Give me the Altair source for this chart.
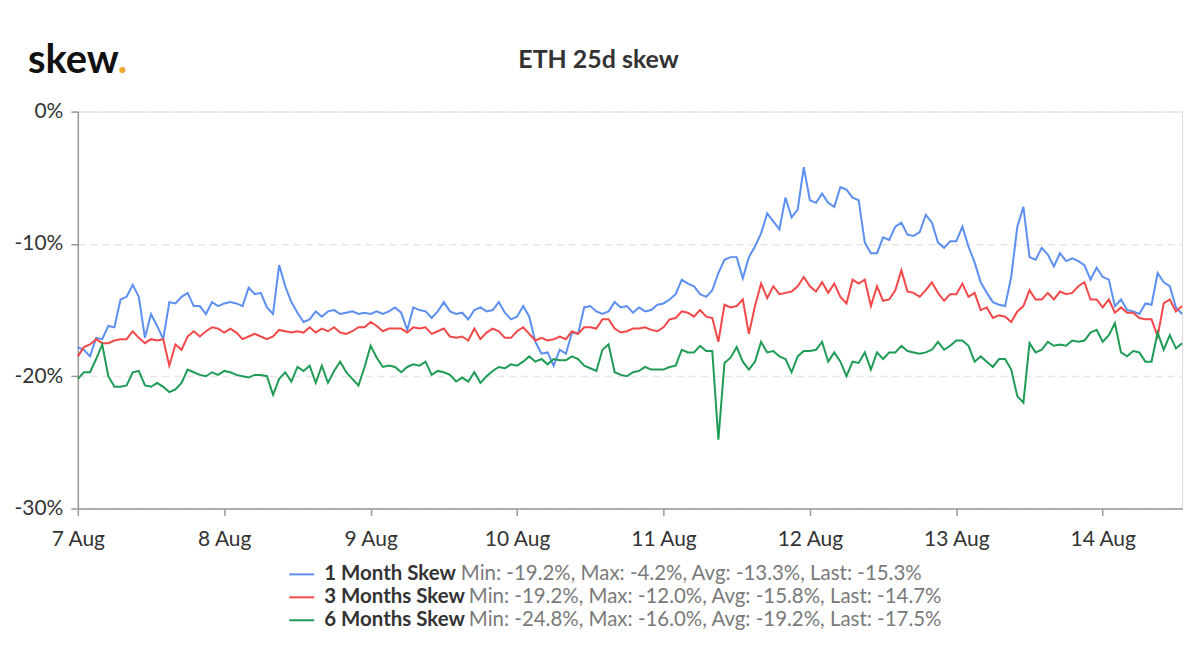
import altair as alt
import pandas as pd

# ---- data (hourly from 7 Aug 00:00) ----
skew_1m = [
    -17.8, -18.0, -18.5, -17.1, -17.2, -16.2, -16.3, -14.2, -14.0, -13.1,
    -14.0, -17.1, -15.3, -16.2, -17.2, -14.4, -14.5, -14.0, -13.7, -14.7,
    -14.7, -15.3, -14.4, -14.7, -14.5, -14.4, -14.5, -14.7, -13.3, -13.8,
    -13.7, -14.8, -15.3, -11.6, -13.2, -14.4, -15.2, -15.9, -15.7, -15.1,
    -15.5, -15.1, -15.0, -15.3, -15.2, -15.1, -15.3, -15.2, -15.3, -15.1,
    -15.3, -15.1, -14.8, -15.2, -16.5, -14.8, -15.0, -15.1, -15.6, -15.1,
    -14.4, -15.1, -15.3, -15.2, -15.7, -15.0, -14.8, -15.1, -15.0, -14.4,
    -15.2, -15.7, -15.5, -14.7, -15.5, -17.4, -18.3, -18.2, -19.2, -18.0,
    -18.3, -16.7, -16.8, -14.8, -14.7, -15.1, -15.3, -15.1, -14.4, -14.8,
    -14.7, -15.2, -14.8, -15.1, -15.0, -14.6, -14.5, -14.2, -13.8, -12.7,
    -13.0, -13.2, -13.8, -14.0, -13.5, -12.2, -11.2, -11.0, -11.0, -12.6,
    -11.0, -10.2, -9.2, -7.7, -8.3, -8.9, -6.5, -8.0, -7.4, -4.2,
    -6.7, -6.9, -6.2, -6.9, -7.2, -5.7, -5.9, -6.5, -6.7, -9.9,
    -10.7, -10.7, -9.5, -9.7, -8.7, -8.4, -9.3, -9.4, -9.1, -7.8,
    -8.4, -9.9, -10.3, -9.8, -9.8, -8.7, -10.2, -11.4, -12.9, -13.7,
    -14.4, -14.6, -14.7, -12.5, -8.7, -7.2, -11.0, -11.2, -10.3, -10.8,
    -11.7, -10.7, -11.3, -11.1, -11.3, -11.6, -12.7, -11.8, -12.5, -12.7,
    -14.7, -14.2, -15.0, -15.1, -15.3, -14.5, -14.6, -12.2, -12.9, -13.2,
    -14.8, -15.3,
]
skew_3m = [
    -18.5, -17.8, -17.6, -17.2, -17.5, -17.5, -17.3, -17.2, -17.2, -16.6,
    -17.1, -17.5, -17.2, -17.3, -17.2, -19.2, -17.6, -18.0, -17.0, -16.6,
    -17.0, -16.6, -16.3, -16.4, -16.7, -16.4, -16.7, -17.2, -17.0, -16.8,
    -17.0, -17.2, -17.0, -16.5, -16.6, -16.7, -16.6, -16.7, -16.3, -16.7,
    -16.4, -16.6, -16.3, -16.7, -16.8, -16.6, -16.3, -16.3, -15.9, -16.2,
    -16.6, -16.4, -16.4, -16.4, -16.7, -16.3, -16.4, -16.3, -16.8, -16.6,
    -16.4, -17.0, -17.1, -17.0, -17.3, -16.4, -17.2, -16.7, -16.4, -16.6,
    -17.1, -17.1, -16.6, -16.3, -16.8, -17.3, -17.1, -17.3, -17.2, -17.0,
    -17.2, -16.6, -16.8, -16.3, -16.3, -16.4, -15.7, -15.7, -16.4, -16.7,
    -16.6, -16.4, -16.4, -16.3, -16.5, -16.6, -16.3, -15.7, -15.6, -15.1,
    -15.2, -15.5, -15.0, -15.5, -15.6, -17.4, -14.6, -14.8, -14.7, -14.2,
    -16.8, -14.7, -13.0, -14.1, -13.2, -13.8, -13.7, -13.6, -13.2, -12.5,
    -13.2, -13.6, -12.9, -13.7, -13.0, -14.0, -14.5, -12.7, -13.0, -12.7,
    -14.7, -13.2, -14.3, -14.2, -13.5, -12.0, -13.6, -13.7, -14.0, -13.5,
    -12.9, -13.7, -14.3, -13.8, -13.8, -13.0, -14.0, -13.7, -15.0, -14.8,
    -15.6, -15.4, -15.5, -15.9, -15.1, -14.7, -13.5, -14.2, -14.2, -13.7,
    -14.2, -13.6, -13.8, -13.7, -13.2, -12.9, -14.2, -14.2, -14.8, -14.2,
    -15.2, -14.8, -15.2, -15.2, -15.6, -15.7, -15.7, -17.0, -14.5, -14.2,
    -15.1, -14.7,
]
skew_6m = [
    -20.2, -19.7, -19.7, -18.7, -17.6, -20.0, -20.8, -20.8, -20.7, -19.7,
    -19.6, -20.7, -20.8, -20.5, -20.8, -21.2, -21.0, -20.5, -19.5, -19.7,
    -19.9, -20.0, -19.7, -19.9, -19.6, -19.7, -19.9, -20.0, -20.1, -19.9,
    -19.9, -20.0, -21.4, -20.2, -19.7, -20.4, -19.3, -19.6, -19.2, -20.5,
    -19.2, -20.5, -19.6, -18.9, -19.7, -20.2, -20.7, -19.3, -17.7, -18.6,
    -19.3, -19.2, -19.3, -19.7, -19.3, -19.1, -19.2, -18.9, -19.9, -19.6,
    -19.7, -19.9, -20.4, -20.1, -20.4, -19.7, -20.5, -20.0, -19.6, -19.3,
    -19.4, -19.1, -19.2, -18.9, -18.5, -18.9, -18.7, -19.1, -18.7, -18.8,
    -18.8, -18.5, -18.7, -19.2, -19.4, -19.6, -18.0, -17.6, -19.7, -19.9,
    -20.0, -19.7, -19.6, -19.3, -19.5, -19.5, -19.5, -19.3, -19.2, -18.0,
    -18.2, -18.2, -17.7, -18.1, -18.1, -24.8, -19.0, -18.6, -17.8, -18.9,
    -19.5, -18.9, -17.4, -18.2, -18.1, -18.5, -18.7, -19.7, -18.5, -18.1,
    -18.1, -18.0, -17.4, -18.9, -18.2, -18.9, -20.0, -18.9, -19.0, -18.2,
    -19.5, -18.2, -18.7, -18.2, -18.2, -17.7, -18.1, -18.2, -18.3, -18.2,
    -18.0, -17.4, -18.0, -17.7, -17.3, -17.3, -17.7, -18.9, -18.5, -18.9,
    -19.3, -18.7, -18.7, -19.5, -21.5, -22.0, -17.5, -18.2, -18.0, -17.4,
    -17.7, -17.6, -17.7, -17.3, -17.4, -17.3, -16.7, -16.5, -17.4, -16.9,
    -16.0, -18.2, -18.5, -18.1, -18.2, -18.9, -18.9, -16.7, -18.0, -16.9,
    -17.9, -17.5,
]

series_names = ["1 Month Skew", "3 Months Skew", "6 Months Skew"]
series_colors = ["#5d8ff0", "#f24848", "#1f9b56"]
stat_min = ["-19.2", "-19.2", "-24.8"]
stat_max = ["-4.2", "-12.0", "-16.0"]
stat_avg = ["-13.3", "-15.8", "-19.2"]
stat_last = ["-15.3", "-14.7", "-17.5"]
y_ticks = [0, -10, -20, -30]
x_tick_days = [7, 8, 9, 10, 11, 12, 13, 14]
chart_title = "ETH 25d skew"

# ---- build table ----
times = pd.date_range("2020-08-07 00:00", periods=len(skew_1m), freq="h")
frames = []
for name, vals in zip(series_names, [skew_1m, skew_3m, skew_6m]):
    frames.append(pd.DataFrame({"time": times, "value": vals, "series": name}))
df = pd.concat(frames, ignore_index=True)
df["time"] = df["time"].dt.strftime("%Y-%m-%dT%H:%M:%S")

FONT = "Lato"
W, H = 1107, 398

x_scale = alt.Scale(
    domain=[alt.DateTime(year=2020, month=8, date=7, hours=0),
            alt.DateTime(year=2020, month=8, date=14, hours=13)],
    nice=False,
)

lines = alt.Chart(df).mark_line(strokeWidth=2).encode(
    x=alt.X(
        "time:T",
        scale=x_scale,
        axis=alt.Axis(
            title=None,
            values=[alt.DateTime(year=2020, month=8, date=d) for d in x_tick_days],
            format="%-d %b",
            grid=False,
            domainColor="#999999",
            domainWidth=1.5,
            tickColor="#999999",
            tickSize=7,
            tickWidth=1.5,
            labelFontSize=21,
            labelColor="#333333",
            labelPadding=13,
            labelFont=FONT,
            labelFlush=False,
            labelOverlap=False,
        ),
    ),
    y=alt.Y(
        "value:Q",
        scale=alt.Scale(domain=[-30, 0], nice=False, zero=False),
        axis=alt.Axis(
            title=None,
            values=y_ticks,
            labelExpr="datum.value + '%'",
            grid=True,
            gridColor="#e6e6e6",
            gridDash=[7, 5],
            gridWidth=1.5,
            domainColor="#999999",
            domainWidth=1.5,
            tickColor="#999999",
            tickSize=7,
            tickWidth=1.5,
            labelFontSize=21,
            labelColor="#333333",
            labelPadding=8,
            labelFont=FONT,
            labelFlush=False,
        ),
    ),
    color=alt.Color(
        "series:N",
        scale=alt.Scale(domain=series_names, range=series_colors),
        legend=None,
    ),
)

one = pd.DataFrame({"k": [0]})

title_layer = alt.Chart(one).mark_text(
    text=chart_title, font=FONT, fontSize=25, fontWeight="bold", color="#333333",
    align="center", baseline="alphabetic",
).encode(x=alt.value(600 - 78), y=alt.value(67 - 111))

logo_word = alt.Chart(one).mark_text(
    text="skew", font=FONT, fontSize=40, fontWeight="bold", color="#111111",
    align="left", baseline="alphabetic",
).encode(x=alt.value(28 - 78), y=alt.value(72 - 111))

logo_dot = alt.Chart(one).mark_text(
    text=".", font=FONT, fontSize=40, fontWeight="bold", color="#f0a52c",
    align="left", baseline="alphabetic",
).encode(x=alt.value(118 - 78), y=alt.value(72 - 111))

layers = [lines, title_layer, logo_word, logo_dot]

row_y = [575, 598, 621]
stats_x = [462, 470, 470]
for i, name in enumerate(series_names):
    yv = row_y[i] - 111
    sym = alt.Chart(one).mark_rule(color=series_colors[i], strokeWidth=2).encode(
        x=alt.value(290 - 78), x2=alt.value(315 - 78), y=alt.value(yv)
    )
    label = alt.Chart(one).mark_text(
        text=name, font=FONT, fontSize=20.5, fontWeight="bold", color="#333333",
        align="left", baseline="middle",
    ).encode(x=alt.value(325 - 78), y=alt.value(yv))
    stats_text = (
        f"Min: {stat_min[i]}%, Max: {stat_max[i]}%, "
        f"Avg: {stat_avg[i]}%, Last: {stat_last[i]}%"
    )
    stats = alt.Chart(one).mark_text(
        text=stats_text, font=FONT, fontSize=20.5, color="#7a7a7a",
        align="left", baseline="middle",
    ).encode(x=alt.value(stats_x[i] - 78), y=alt.value(yv))
    layers += [sym, label, stats]

chart = alt.layer(*layers).properties(
    width=W,
    height=H,
    autosize=alt.AutoSizeParams(type="none"),
    padding={"left": 70, "top": 103, "right": 10, "bottom": 150},
).configure_view(stroke=None).configure(font=FONT)

chart.save("out.html", embed_options={"renderer": "svg", "actions": False})
